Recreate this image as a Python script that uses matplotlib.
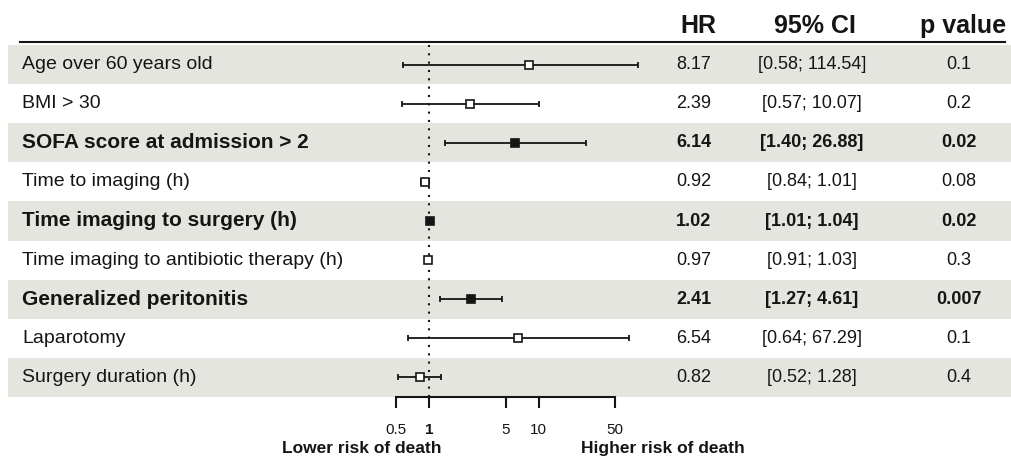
import matplotlib.pyplot as plt
import numpy as np
from matplotlib.lines import Line2D
from matplotlib.ticker import NullLocator

plt.rcParams['font.family'] = ['Liberation Sans', 'DejaVu Sans']

# %% Data
labels = ['Age over 60 years old', 'BMI > 30', 'SOFA score at admission > 2',
          'Time to imaging (h)', 'Time imaging to surgery (h)',
          'Time imaging to antibiotic therapy (h)', 'Generalized peritonitis',
          'Laparotomy', 'Surgery duration (h)']
hr = [8.17, 2.39, 6.14, 0.92, 1.02, 0.97, 2.41, 6.54, 0.82]
ci_low = [0.58, 0.57, 1.40, 0.84, 1.01, 0.91, 1.27, 0.64, 0.52]
ci_high = [114.54, 10.07, 26.88, 1.01, 1.04, 1.03, 4.61, 67.29, 1.28]
p_values = ['0.1', '0.2', '0.02', '0.08', '0.02', '0.3', '0.007', '0.1', '0.4']
significant = [False, False, True, False, True, False, True, False, False]
tick_values = [0.5, 1, 5, 10, 50]
tick_labels = ['0.5', '1', '5', '10', '50']

# %% Layout helpers (pixel -> figure fraction)
W, H = 1012, 465
ink = '#151515'
band = '#e5e5e0'


def fx(px):
    return px / W


def fy(py):
    return 1 - py / H


top, bottom = 45, 397
n = len(labels)
rows = np.arange(n)

fig = plt.figure(figsize=(W / 100, H / 100), dpi=100)

# background axes: zebra bands and table text
bg = fig.add_axes([0, fy(bottom), 1, (bottom - top) / H])
bg.set_xlim(0, W)
bg.set_ylim(n - 0.5, -0.5)
bg.axis('off')
for i in range(0, n, 2):
    bg.axhspan(i - 0.5, i + 0.5, xmin=8 / W, xmax=1, color=band, lw=0)

fig.add_artist(Line2D([fx(20), fx(1005)], [fy(42), fy(42)],
                      lw=1.5, color=ink))

for i in rows:
    weight = 'bold' if significant[i] else 'normal'
    bg.text(22, i, labels[i], fontsize=15 if significant[i] else 14,
            fontweight=weight, ha='left', va='center', color=ink)
    bg.text(694, i, f'{hr[i]:.2f}', fontsize=13, fontweight=weight,
            ha='center', va='center', color=ink)
    bg.text(812, i, f'[{ci_low[i]:.2f}; {ci_high[i]:.2f}]', fontsize=13,
            fontweight=weight, ha='center', va='center', color=ink)
    bg.text(959, i, p_values[i], fontsize=13, fontweight=weight,
            ha='center', va='center', color=ink)

# headers
for x, txt in [(698, 'HR'), (815, '95% CI'), (963, 'p value')]:
    fig.text(fx(x), fy(33), txt, fontsize=18, fontweight='bold',
             ha='center', va='baseline', color=ink)

# %% Forest plot
xmin, xmax = 0.225, 80.7
ax = fig.add_axes([fx(358), fy(bottom), 280 / W, (bottom - top) / H])
ax.set_xscale('log')
ax.set_xlim(xmin, xmax)
ax.set_ylim(n - 0.5, -0.5)
ax.patch.set_alpha(0)

hr_a = np.array(hr)
lo = np.array(ci_low)
hi = np.minimum(np.array(ci_high), xmax * 0.995)
ax.errorbar(hr_a, rows, xerr=[hr_a - lo, hi - hr_a], fmt='none',
            ecolor=ink, elinewidth=1.3, capsize=2.5, capthick=1.3, zorder=2)
for i in rows:
    ax.plot(hr[i], i, 's', ms=5.5, mec=ink, mew=1.2,
            mfc=ink if significant[i] else 'white', zorder=3)

ax.axvline(1, color=ink, lw=1.5, ls=(0, (1, 3)), zorder=1)

for s in ['left', 'right', 'top']:
    ax.spines[s].set_visible(False)
ax.spines['bottom'].set_bounds(0.5, 50)
ax.spines['bottom'].set_linewidth(1.5)
ax.spines['bottom'].set_color(ink)
ax.set_yticks([])
ax.set_xticks(tick_values)
ax.set_xticklabels(tick_labels)
ax.xaxis.set_minor_locator(NullLocator())
ax.tick_params(axis='x', length=8, width=1.5, pad=11, labelsize=11,
               color=ink, labelcolor=ink)
ax.get_xticklabels()[1].set_fontweight('bold')

fig.text(fx(362), fy(448), 'Lower risk of death', fontsize=12.5,
         fontweight='bold', ha='center', va='center', color=ink)
fig.text(fx(663), fy(448), 'Higher risk of death', fontsize=12.5,
         fontweight='bold', ha='center', va='center', color=ink)

fig.savefig('out.png', dpi=100)
